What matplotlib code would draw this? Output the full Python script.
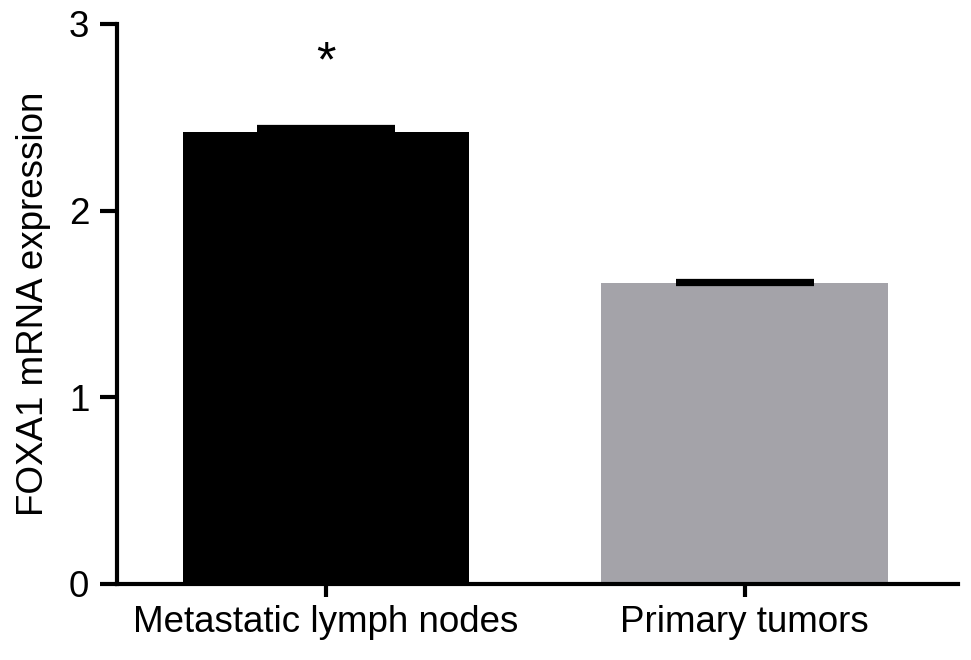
import numpy as np
import matplotlib
matplotlib.use("Agg")
import matplotlib.pyplot as plt

plt.rcParams['font.family'] = ['Liberation Sans', 'DejaVu Sans']

# data
groups = ['Metastatic lymph nodes', 'Primary tumors']
means = [2.42, 1.61]
errors = [0.02, 0.01]
colors = ['#000000', '#a4a3a9']
star_y = 2.79

fig = plt.figure(figsize=(9.71, 6.6), dpi=100)
ax = fig.add_axes([0.1205, 0.1152, 0.866, 0.8485])

x = np.arange(len(groups))
ax.bar(x, means, width=0.685, color=colors, zorder=2)
ax.errorbar(x, means, yerr=[np.zeros(len(errors)), errors], fmt='none',
            ecolor='black', elinewidth=3, capsize=50, capthick=4.5, zorder=3)
ax.text(x[0], star_y, '*', ha='center', va='center', fontsize=36)

ax.set_xlim(-0.5, 1.51)
ax.set_ylim(0, 3)
ax.set_yticks([0, 1, 2, 3])
ax.set_xticks(x)
ax.set_xticklabels(groups)
ax.set_ylabel('FOXA1 mRNA expression', fontsize=26.5, labelpad=13)

for side in ['top', 'right']:
    ax.spines[side].set_visible(False)
for side in ['left', 'bottom']:
    ax.spines[side].set_linewidth(3)
ax.tick_params(axis='y', length=12, width=3, labelsize=26.5, pad=8)
ax.tick_params(axis='x', length=9, width=3, labelsize=26.5, pad=6)

fig.savefig('out.png', dpi=100)
